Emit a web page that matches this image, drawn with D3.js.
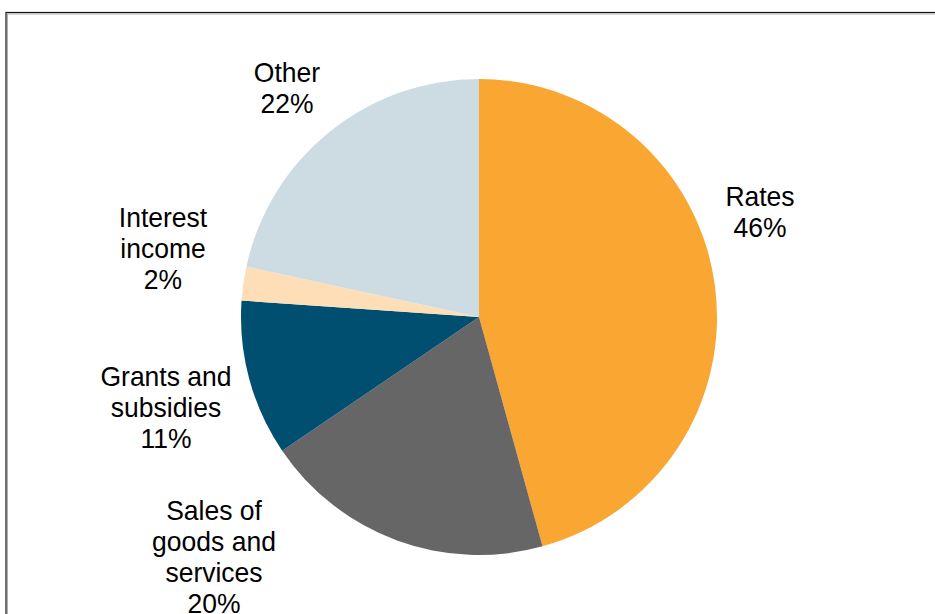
<!DOCTYPE html>
<html>
<head>
<meta charset="utf-8">
<script src="https://cdn.jsdelivr.net/npm/d3@7/dist/d3.min.js"></script>
<style>
  html, body { margin: 0; padding: 0; background: #fff; }
  svg { display: block; }
  text { font-family: "Liberation Sans", Arial, sans-serif; fill: #000; }
</style>
</head>
<body>
<script>
// Data
const categories = ["Rates", "Sales of goods and services", "Grants and subsidies", "Interest income", "Other"];
const values = [45.7, 19.8, 10.6, 2.3, 21.6];
const labelLines = [["Rates"], ["Sales of", "goods and", "services"], ["Grants and", "subsidies"], ["Interest", "income"], ["Other"]];
const colors = ["#F9A633", "#666666", "#004F71", "#FDDEB6", "#CCDCE2"];

// Layout (label block centres relative to pie centre)
const labelOffsets = [[281, -105], [-265, 240], [-313, 90], [-316, -69], [-192, -229.5]];

const W = 935, H = 614;
const cx = 479, cy = 317, R = 238;
const lineH = 31;

const svg = d3.select("body").append("svg").attr("width", W).attr("height", H);

// frame
svg.append("rect").attr("x", 6).attr("y", 12.5).attr("width", 1000).attr("height", 1000)
  .attr("fill", "none").attr("stroke", "#111").attr("stroke-width", 1.2);
svg.append("rect").attr("x", 7.5).attr("y", 14).attr("width", 1000).attr("height", 1000)
  .attr("fill", "none").attr("stroke", "#999").attr("stroke-width", 0.8);

const data = categories.map((c, i) => ({ name: c, value: values[i], lines: labelLines[i], color: colors[i], off: labelOffsets[i] }));

const pie = d3.pie().value(d => d.value).sort(null);
const arc = d3.arc().innerRadius(0).outerRadius(R);

const g = svg.append("g").attr("transform", `translate(${cx},${cy})`);
const arcs = pie(data);

g.selectAll("path").data(arcs).join("path")
  .attr("d", arc)
  .attr("fill", d => d.data.color);

const total = d3.sum(values);
const lg = g.selectAll("g.lbl").data(arcs).join("g").attr("class", "lbl")
  .attr("transform", d => `translate(${d.data.off[0]},${d.data.off[1]})`);

lg.each(function(d) {
  const lines = d.data.lines.concat([Math.round(d.data.value / total * 100) + "%"]);
  const n = lines.length;
  const sel = d3.select(this);
  lines.forEach((t, i) => {
    sel.append("text")
      .attr("text-anchor", "middle")
      .attr("dominant-baseline", "central")
      .attr("transform", `translate(0,${(i - (n - 1) / 2) * lineH}) scale(1,1.07)`)
      .style("font-size", "26.5px")
      .text(t);
  });
});
</script>
</body>
</html>
